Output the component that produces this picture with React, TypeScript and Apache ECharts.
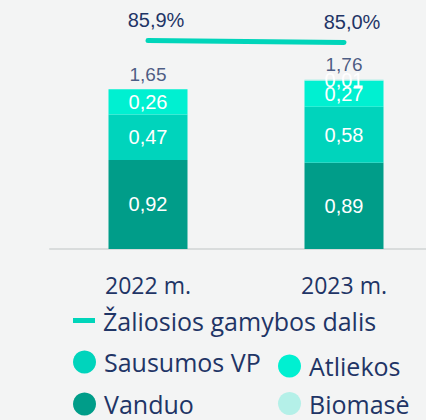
import React, { useEffect, useRef } from "react";
import * as echarts from "echarts";

const categories = ["2022 m.", "2023 m."];
const vanduo = [0.92, 0.89];
const sausumos = [0.47, 0.58];
const atliekos = [0.26, 0.27];
const biomase: (number | null)[] = [null, 0.01];
const totals = [1.65, 1.76];
const share = [85.9, 85.0];

const NAVY = "#1f3566";
const C_VANDUO = "#009d89";
const C_SAUS = "#00d4bc";
const C_ATL = "#00f0d1";
const C_BIO = "#b4f0e8";
const C_LINE = "#00d5ba";

const fmt2 = (v: number) => v.toFixed(2).replace(".", ",");

export default function App() {
  const ref = useRef<HTMLDivElement>(null);
  useEffect(() => {
    document.body.style.margin = "0";
    document.body.style.overflow = "hidden";
    document.body.style.background = "#f3f4f4";
    const chart = echarts.init(ref.current!, null, { renderer: "svg" });
    const valueLabel = {
      show: true,
      position: "inside",
      color: "#ffffff",
      fontSize: 20,
      fontFamily: "Liberation Sans",
      formatter: (p: any) => (p.value == null ? "" : fmt2(p.value)),
    };
    const barBase = {
      type: "bar",
      stack: "total",
      barWidth: 79,
      label: valueLabel,
    };
    const legendText = {
      color: NAVY,
      fontSize: 25,
      fontFamily: "Open Sans",
      lineHeight: 25,
      padding: [0, 0, 0, 3],
    };
    chart.setOption({
      animation: false,
      backgroundColor: "#f3f4f4",
      grid: { left: 50, right: 0, top: 36, height: 213 },
      xAxis: {
        type: "category",
        data: categories,
        axisLine: { lineStyle: { color: "#d9dcdc", width: 2 } },
        axisTick: { show: false },
        axisLabel: {
          color: NAVY,
          fontSize: 23,
          fontFamily: "Open Sans",
          margin: 24,
        },
      },
      yAxis: [
        { type: "value", min: 0, max: 2.2, show: false },
        { type: "value", min: -9, max: 88, show: false },
      ],
      legend: [
        {
          data: ["Žaliosios gamybos dalis"],
          left: 73,
          top: 308,
          padding: 0,
          icon: "rect",
          itemWidth: 22,
          itemHeight: 5,
          textStyle: legendText,
        },
        {
          data: ["Sausumos VP", "Vanduo"],
          orient: "vertical",
          left: 73,
          top: 349.5,
          padding: 0,
          icon: "circle",
          itemWidth: 23,
          itemHeight: 23,
          itemGap: 17,
          textStyle: legendText,
        },
        {
          data: ["Atliekos", "Biomasė"],
          orient: "vertical",
          left: 278,
          top: 353.5,
          padding: 0,
          icon: "circle",
          itemWidth: 23,
          itemHeight: 23,
          itemGap: 12.5,
          textStyle: legendText,
        },
      ],
      series: [
        { ...barBase, name: "Vanduo", data: vanduo, itemStyle: { color: C_VANDUO } },
        { ...barBase, name: "Sausumos VP", data: sausumos, itemStyle: { color: C_SAUS } },
        { ...barBase, name: "Atliekos", data: atliekos, itemStyle: { color: C_ATL } },
        { ...barBase, name: "Biomasė", data: biomase, itemStyle: { color: C_BIO } },
        {
          type: "scatter",
          name: "total",
          data: totals,
          symbolSize: 0,
          label: {
            show: true,
            position: "top",
            distance: 5,
            color: NAVY,
            fontSize: 19,
            fontFamily: "Liberation Sans",
            formatter: (p: any) => fmt2(p.value),
          },
        },
        {
          type: "line",
          name: "Žaliosios gamybos dalis",
          yAxisIndex: 1,
          data: share,
          symbol: "circle",
          symbolSize: 1,
          itemStyle: { color: C_LINE },
          lineStyle: { color: C_LINE, width: 5, cap: "round" },
          label: {
            show: true,
            position: "top",
            distance: 10,
            offset: [8, 0],
            color: NAVY,
            fontSize: 20,
            fontFamily: "Liberation Sans",
            formatter: (p: any) => p.value.toFixed(1).replace(".", ",") + "%",
          },
        },
      ],
    });
    return () => chart.dispose();
  }, []);
  return <div ref={ref} style={{ width: 442, height: 420 }} />;
}
